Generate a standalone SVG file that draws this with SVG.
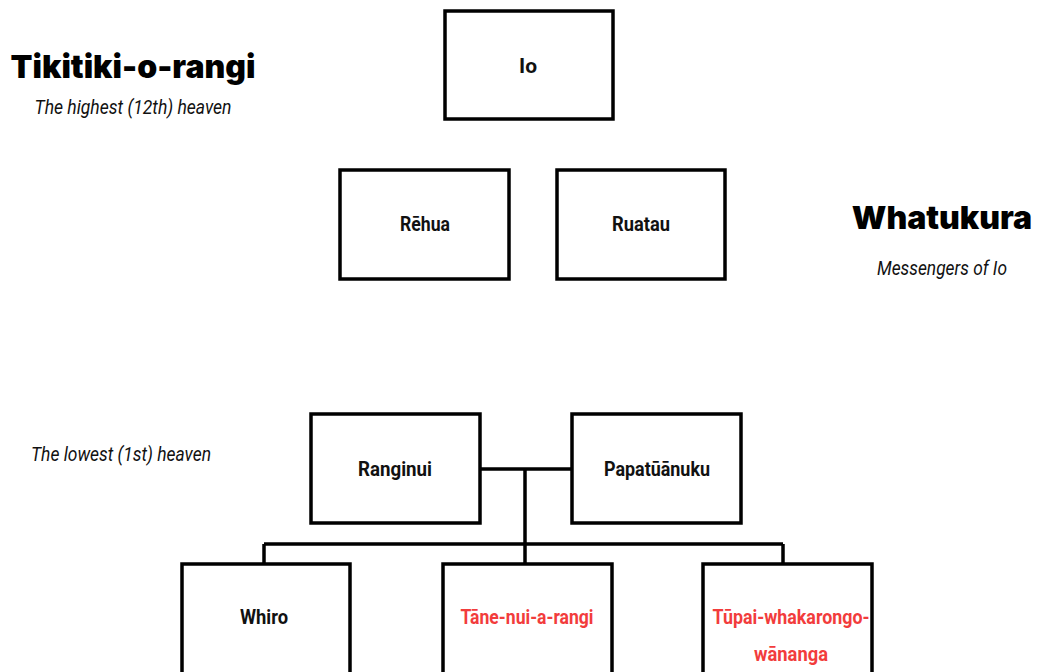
<svg xmlns="http://www.w3.org/2000/svg" width="1042" height="672" viewBox="0 0 1042 672">
<style>
.box{fill:#fff;stroke:#000;stroke-width:3.5}
.lbl{font-family:"Roboto","Liberation Sans",sans-serif;font-weight:bold;font-size:20px;text-anchor:middle;fill:#111}
.red{fill:#f23c3c}
.title{font-family:"Inter","Liberation Sans",sans-serif;font-weight:900;font-size:32px;text-anchor:middle;fill:#000}
.sub{font-family:"Roboto","Liberation Sans",sans-serif;font-style:italic;font-size:20px;text-anchor:middle;fill:#111}
.con{stroke:#000;stroke-width:3.5;fill:none}
</style>
<rect width="1042" height="672" fill="#fff"/>
<g id="labels">
<text class="title" x="133" y="78">Tikitiki-o-rangi</text>
<text class="sub" x="133" y="114" textLength="197" lengthAdjust="spacingAndGlyphs">The highest (12th) heaven</text>
<text class="title" x="942" y="229">Whatukura</text>
<text class="sub" x="942" y="275" textLength="130" lengthAdjust="spacingAndGlyphs">Messengers of Io</text>
<text class="sub" x="121" y="461" textLength="180" lengthAdjust="spacingAndGlyphs">The lowest (1st) heaven</text>
</g>
<g id="connectors">
<path class="con" d="M480 469 H572 M525 469 V564 M264 544 H783 M264 544 V564 M783 544 V564"/>
</g>
<g id="io"><rect class="box" x="445" y="11" width="168" height="108"/><text class="lbl" x="528" y="73" textLength="18" lengthAdjust="spacingAndGlyphs">Io</text></g>
<g id="rehua"><rect class="box" x="340" y="170" width="169" height="109"/><text class="lbl" x="425" y="231" textLength="50" lengthAdjust="spacingAndGlyphs">Rēhua</text></g>
<g id="ruatau"><rect class="box" x="557" y="170" width="168" height="109"/><text class="lbl" x="641" y="231" textLength="58" lengthAdjust="spacingAndGlyphs">Ruatau</text></g>
<g id="ranginui"><rect class="box" x="311" y="414" width="169" height="109"/><text class="lbl" x="395" y="476" textLength="74" lengthAdjust="spacingAndGlyphs">Ranginui</text></g>
<g id="papatuanuku"><rect class="box" x="572" y="414" width="169" height="109"/><text class="lbl" x="657" y="476" textLength="106" lengthAdjust="spacingAndGlyphs">Papatūānuku</text></g>
<g id="whiro"><rect class="box" x="182" y="564" width="168" height="112"/><text class="lbl" x="264" y="624" textLength="48" lengthAdjust="spacingAndGlyphs">Whiro</text></g>
<g id="tane"><rect class="box" x="443" y="564" width="169" height="112"/><text class="lbl red" x="527" y="624" textLength="133" lengthAdjust="spacingAndGlyphs">Tāne-nui-a-rangi</text></g>
<g id="tupai"><rect class="box" x="703" y="564" width="169" height="112"/><text class="lbl red" x="791" y="624" textLength="157" lengthAdjust="spacingAndGlyphs">Tūpai-whakarongo-</text><text class="lbl red" x="791" y="661" textLength="74" lengthAdjust="spacingAndGlyphs">wānanga</text></g>
</svg>
